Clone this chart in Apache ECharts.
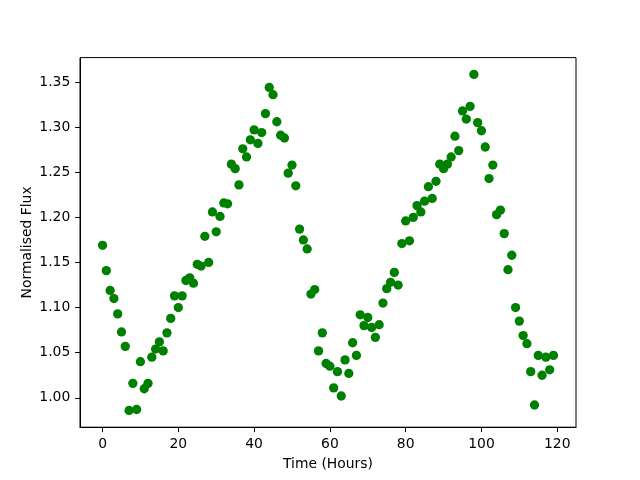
<!DOCTYPE html>
<html>
<head>
<meta charset="utf-8">
<script src="https://cdn.jsdelivr.net/npm/echarts@6/dist/echarts.min.js"></script>
<style>
html,body{margin:0;padding:0;background:#fff;}
#chart{width:640px;height:480px;}
</style>
</head>
<body>
<div id="chart"></div>
<script>
// Flux values, one per hour (hour = index 0..119)
const flux = [
  1.169, 1.141, 1.119, 1.110, 1.093, 1.073, 1.057, 0.986, 1.016, 0.987,
  1.040, 1.010, 1.016, 1.045, 1.054, 1.062, 1.052, 1.072, 1.088, 1.113,
  1.100, 1.113, 1.130, 1.133, 1.127, 1.148, 1.146, 1.179, 1.150, 1.206,
  1.184, 1.201, 1.216, 1.215, 1.259, 1.254, 1.236, 1.276, 1.267, 1.286,
  1.297, 1.282, 1.294, 1.315, 1.344, 1.336, 1.306, 1.291, 1.288, 1.249,
  1.258, 1.235, 1.187, 1.175, 1.165, 1.115, 1.120, 1.052, 1.072, 1.038,
  1.035, 1.011, 1.029, 1.002, 1.042, 1.027, 1.061, 1.047, 1.092, 1.080,
  1.089, 1.078, 1.067, 1.081, 1.105, 1.121, 1.128, 1.139, 1.125, 1.171,
  1.196, 1.174, 1.200, 1.213, 1.206, 1.218, 1.234, 1.221, 1.240, 1.259,
  1.254, 1.259, 1.267, 1.290, 1.274, 1.318, 1.309, 1.323, 1.3585, 1.305,
  1.296, 1.278, 1.243, 1.258, 1.203, 1.208, 1.182, 1.142, 1.158, 1.100,
  1.085, 1.069, 1.060, 1.029, 0.992, 1.047, 1.025, 1.045, 1.031, 1.047
];
const xTicks = [0, 20, 40, 60, 80, 100, 120];
const yTicks = [1.00, 1.05, 1.10, 1.15, 1.20, 1.25, 1.30, 1.35];

const points = flux.map((v, i) => [i, v]);
const font = 'DejaVu Sans';

const chart = echarts.init(document.getElementById('chart'), null, {renderer: 'canvas'});
chart.setOption({
  animation: false,
  backgroundColor: '#ffffff',
  grid: {
    left: 80, right: 64, top: 57.6, bottom: 52.8,
    show: true, borderColor: '#000000', borderWidth: 1, backgroundColor: 'transparent'
  },
  xAxis: {
    type: 'value',
    min: -5.95, max: 124.95,
    name: 'Time (Hours)',
    nameLocation: 'middle',
    nameGap: 30,
    nameMoveOverlap: false,
    nameTextStyle: {fontFamily: font, fontSize: 13.9, color: '#000'},
    axisLine: {show: true, onZero: false, lineStyle: {color: '#000', width: 1}},
    axisTick: {show: true, inside: false, length: 4.9, lineStyle: {color: '#000', width: 1}, customValues: xTicks},
    axisLabel: {
      fontFamily: font, fontSize: 13.9, color: '#000', margin: 9.7,
      customValues: xTicks, formatter: v => String(v)
    },
    splitLine: {show: false}
  },
  yAxis: {
    type: 'value',
    min: 0.9674, max: 1.3771,
    name: 'Normalised Flux',
    nameLocation: 'middle',
    nameGap: 46,
    nameRotate: 90,
    nameMoveOverlap: false,
    nameTextStyle: {fontFamily: font, fontSize: 13.9, color: '#000'},
    axisLine: {show: true, onZero: false, lineStyle: {color: '#000', width: 1}},
    axisTick: {show: true, inside: false, length: 4.9, lineStyle: {color: '#000', width: 1}, customValues: yTicks},
    axisLabel: {
      fontFamily: font, fontSize: 13.9, color: '#000', margin: 9.7,
      customValues: yTicks, formatter: v => Number(v).toFixed(2)
    },
    splitLine: {show: false}
  },
  series: [{
    type: 'scatter',
    data: points,
    symbol: 'circle',
    symbolSize: 9.3,
    itemStyle: {color: '#008000', opacity: 1},
    emphasis: {disabled: true}
  }]
});
</script>
</body>
</html>
